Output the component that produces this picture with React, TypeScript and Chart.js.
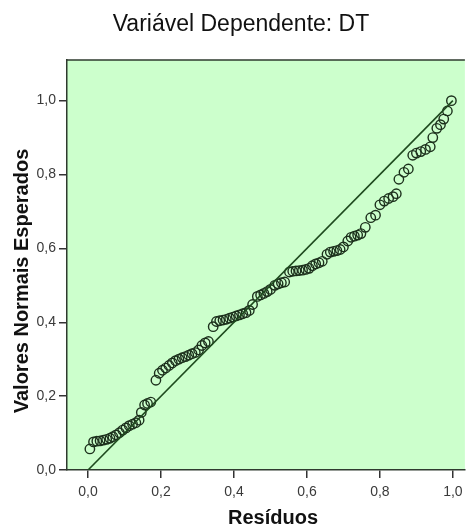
import React, { useEffect, useRef } from "react";
import { Chart, registerables } from "chart.js";

Chart.register(...registerables);

const chartTitle = "Variável Dependente: DT";
const xAxisTitle = "Resíduos";
const yAxisTitle = "Valores Normais Esperados";
const tickValues = [0, 0.2, 0.4, 0.6, 0.8, 1.0];

const observedProb = [
  0.005, 0.015, 0.024, 0.033, 0.042, 0.051, 0.06, 0.068, 0.077, 0.086,
  0.095, 0.104, 0.113, 0.122, 0.131, 0.14, 0.146, 0.155, 0.163, 0.172,
  0.186, 0.195, 0.204, 0.213, 0.222, 0.231, 0.24, 0.249, 0.258, 0.267,
  0.276, 0.285, 0.294, 0.303, 0.312, 0.321, 0.33, 0.343, 0.352, 0.361,
  0.37, 0.379, 0.388, 0.397, 0.406, 0.415, 0.424, 0.433, 0.442, 0.451,
  0.464, 0.473, 0.482, 0.491, 0.5, 0.512, 0.521, 0.53, 0.539, 0.552,
  0.561, 0.57, 0.579, 0.588, 0.597, 0.606, 0.615, 0.624, 0.633, 0.642,
  0.655, 0.664, 0.673, 0.682, 0.691, 0.7, 0.712, 0.721, 0.73, 0.739,
  0.748, 0.76, 0.775, 0.788, 0.8, 0.812, 0.824, 0.836, 0.845, 0.852,
  0.866, 0.878, 0.89, 0.9, 0.912, 0.925, 0.938, 0.945, 0.956, 0.966,
  0.975, 0.985, 0.996,
];

const expectedProb = [
  0.057, 0.076, 0.078, 0.079, 0.081, 0.083, 0.086, 0.09, 0.095, 0.101,
  0.108, 0.114, 0.12, 0.124, 0.128, 0.135, 0.156, 0.176, 0.18, 0.184,
  0.243, 0.262, 0.27, 0.276, 0.283, 0.29, 0.296, 0.3, 0.304, 0.307,
  0.311, 0.315, 0.318, 0.325, 0.337, 0.344, 0.348, 0.388, 0.402, 0.404,
  0.406, 0.408, 0.411, 0.414, 0.417, 0.42, 0.423, 0.426, 0.432, 0.448,
  0.47, 0.474, 0.478, 0.483, 0.489, 0.5, 0.504, 0.507, 0.509, 0.536,
  0.538, 0.539, 0.54, 0.541, 0.543, 0.546, 0.553, 0.558, 0.561, 0.565,
  0.584, 0.59, 0.592, 0.594, 0.597, 0.604, 0.62, 0.63, 0.633, 0.636,
  0.64, 0.657, 0.683, 0.69, 0.718, 0.728, 0.735, 0.74, 0.748, 0.787,
  0.806, 0.815, 0.852, 0.858, 0.862, 0.868, 0.875, 0.9, 0.925, 0.935,
  0.95, 0.972, 1.0,
];

const refLineX = [0, 1];
const refLineY = [0, 1];

const FONT = "'Liberation Sans', Arial, sans-serif";

export default function App() {
  const canvasRef = useRef<HTMLCanvasElement>(null);

  useEffect(() => {
    document.body.style.margin = "0";
    const canvas = canvasRef.current;
    if (!canvas) return;

    const decor = {
      id: "decor",
      beforeDraw(chart: any) {
        const { ctx, chartArea: a } = chart;
        ctx.save();
        ctx.fillStyle = "#ccffcc";
        ctx.fillRect(a.left, a.top, a.right - a.left, a.bottom - a.top);
        ctx.strokeStyle = "#2e3a2e";
        ctx.lineWidth = 1.5;
        ctx.beginPath();
        ctx.moveTo(a.left, a.top);
        ctx.lineTo(a.right, a.top);
        ctx.stroke();
        ctx.restore();
      },
      afterDraw(chart: any) {
        const { ctx } = chart;
        ctx.save();
        ctx.fillStyle = "#111";
        ctx.textAlign = "center";
        ctx.textBaseline = "alphabetic";
        ctx.font = `23px ${FONT}`;
        ctx.fillText(chartTitle, 241, 31);
        ctx.font = `bold 20px ${FONT}`;
        ctx.fillText(xAxisTitle, 273, 524);
        ctx.translate(27.5, 281);
        ctx.rotate(-Math.PI / 2);
        ctx.fillText(yAxisTitle, 0, 0);
        ctx.restore();
      },
    };

    const fmt = (v: any) => Number(v).toFixed(1).replace(".", ",");

    const chart = new Chart(canvas, {
      type: "scatter",
      data: {
        datasets: [
          {
            type: "line",
            data: refLineX.map((x, i) => ({ x, y: refLineY[i] })),
            borderColor: "#1e4a1e",
            borderWidth: 1.6,
            pointRadius: 0,
            fill: false,
          } as any,
          {
            type: "scatter",
            data: observedProb.map((x, i) => ({ x, y: expectedProb[i] })),
            pointRadius: 4.7,
            pointBorderWidth: 1.4,
            borderColor: "#1c301c",
            backgroundColor: "rgba(0,0,0,0)",
            pointBackgroundColor: "rgba(0,0,0,0)",
          },
        ],
      },
      options: {
        responsive: false,
        animation: false,
        layout: { padding: { top: 60, right: 1, left: 0, bottom: 0 } },
        plugins: {
          legend: { display: false },
          tooltip: { enabled: false },
          title: { display: false },
        },
        scales: {
          x: {
            type: "linear",
            min: -0.0577,
            max: 1.033,
            afterBuildTicks: (s: any) => {
              s.ticks = tickValues.map((v) => ({ value: v }));
            },
            afterFit: (s: any) => {
              s.height = 55;
            },
            ticks: {
              callback: fmt,
              color: "#3a3a3a",
              font: { family: FONT, size: 14 },
              padding: 6,
              maxRotation: 0,
              autoSkip: false,
            },
            grid: {
              drawOnChartArea: false,
              drawTicks: true,
              tickLength: 8,
              color: "#333",
              lineWidth: 1.5,
            },
            border: { display: true, color: "#2e3a2e", width: 1.5 },
          },
          y: {
            type: "linear",
            min: 0,
            max: 1.11,
            afterBuildTicks: (s: any) => {
              s.ticks = tickValues.map((v) => ({ value: v }));
            },
            afterFit: (s: any) => {
              s.width = 67;
            },
            ticks: {
              callback: fmt,
              color: "#3a3a3a",
              font: { family: FONT, size: 14 },
              padding: 3,
              autoSkip: false,
            },
            grid: {
              drawOnChartArea: false,
              drawTicks: true,
              tickLength: 8,
              color: "#333",
              lineWidth: 1.5,
            },
            border: { display: true, color: "#2e3a2e", width: 1.5 },
          },
        },
      },
      plugins: [decor],
    } as any);

    return () => chart.destroy();
  }, []);

  return (
    <canvas
      ref={canvasRef}
      width={471}
      height={525}
      style={{ display: "block", width: 471, height: 525 }}
    />
  );
}
